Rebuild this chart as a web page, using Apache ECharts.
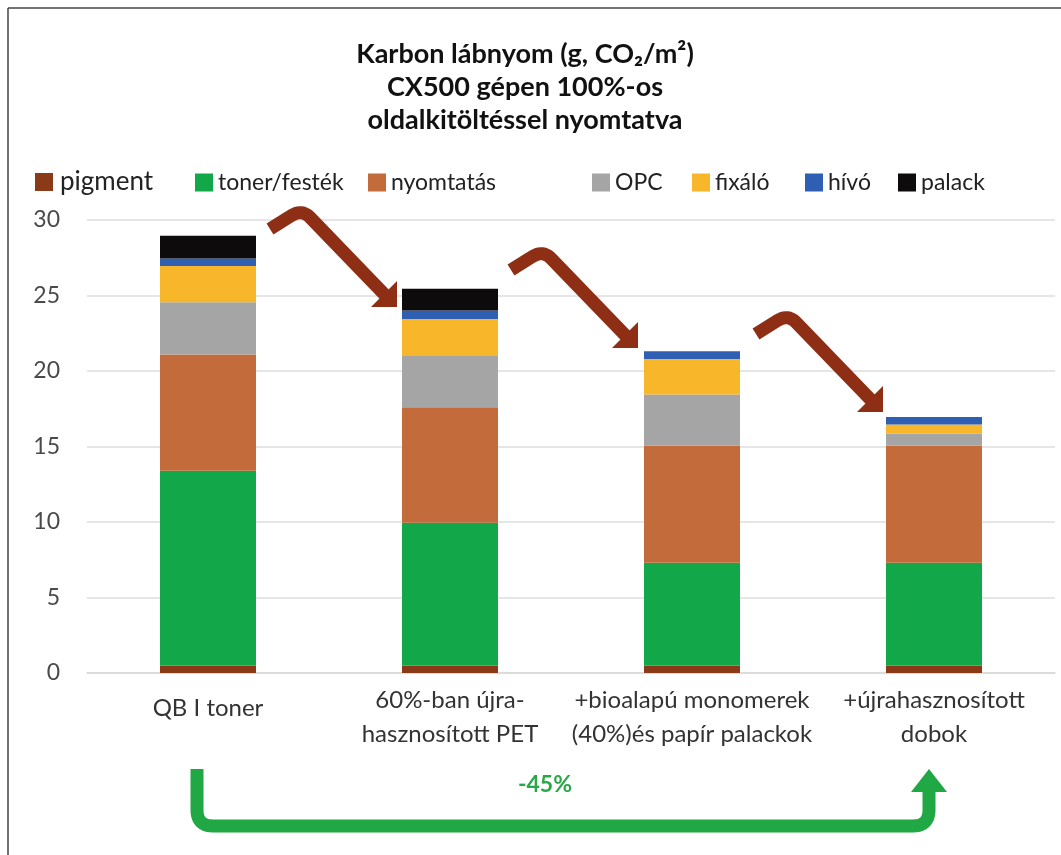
<!DOCTYPE html>
<html>
<head>
<meta charset="utf-8">
<script src="https://cdn.jsdelivr.net/npm/echarts@6/dist/echarts.min.js"></script>
<style>
  html, body { margin: 0; padding: 0; background: #fff; }
  #chart { width: 1061px; height: 855px; }
</style>
</head>
<body>
<div id="chart"></div>
<script>
// categories and values (g CO2/m2)
const categories = [
  "QB I toner",
  "60%-ban újra-\nhasznosított PET",
  "+bioalapú monomerek\n(40%)és papír palackok",
  "+újrahasznosított\ndobok"
];
const pigment = [0.5, 0.5, 0.5, 0.5];
const toner = [12.9, 9.45, 6.8, 6.8];
const nyomtatas = [7.7, 7.65, 7.75, 7.75];
const opc = [3.45, 3.45, 3.4, 0.8];
const fixalo = [2.4, 2.4, 2.35, 0.6];
const hivo = [0.5, 0.55, 0.5, 0.5];
const palack = [1.5, 1.45, 0, 0];
const yTicks = [0, 5, 10, 15, 20, 25, 30];

const FONT = "Lato, 'Open Sans', sans-serif";

const seriesDefs = [
  { name: "pigment", data: pigment, color: "#8a3a17" },
  { name: "toner/festék", data: toner, color: "#12a84a" },
  { name: "nyomtatás", data: nyomtatas, color: "#c46b3b" },
  { name: "OPC", data: opc, color: "#a5a5a5" },
  { name: "fixáló", data: fixalo, color: "#f8b62b" },
  { name: "hívó", data: hivo, color: "#2f5fb3" },
  { name: "palack", data: palack, color: "#0d0b0c" }
];

// legend x positions (one small legend per item, like the original layout)
const legendLeft = [30, 190, 363, 587, 687, 800, 893];

const chart = echarts.init(document.getElementById("chart"));

// points of a polyline with rounded corners (quadratic bends)
function roundedPath(pts, r) {
  const out = [pts[0]];
  for (let i = 1; i < pts.length - 1; i++) {
    const [px, py] = pts[i - 1], [cx, cy] = pts[i], [nx, ny] = pts[i + 1];
    const d1 = Math.hypot(cx - px, cy - py), d2 = Math.hypot(nx - cx, ny - cy);
    const ax = cx - (cx - px) / d1 * r, ay = cy - (cy - py) / d1 * r;
    const bx = cx + (nx - cx) / d2 * r, by = cy + (ny - cy) / d2 * r;
    for (let k = 0; k <= 10; k++) {
      const t = k / 10;
      out.push([
        (1 - t) * (1 - t) * ax + 2 * (1 - t) * t * cx + t * t * bx,
        (1 - t) * (1 - t) * ay + 2 * (1 - t) * t * cy + t * t * by
      ]);
    }
  }
  out.push(pts[pts.length - 1]);
  return out;
}

// curved brown arrow, built around its tip
function brownArrow(tx, ty) {
  const ax = tx - 95, ay = ty - 98;
  return [
    {
      type: "polyline",
      shape: { points: roundedPath([[ax - 32, ay + 20], [ax, ay], [tx - 12, ty - 12]], 12) },
      style: { fill: null, stroke: "#8e2f15", lineWidth: 13 },
      z: 10
    },
    {
      type: "polygon",
      shape: { points: [[tx, ty], [tx, ty - 26], [tx - 26, ty]] },
      style: { fill: "#8e2f15" },
      z: 10
    }
  ];
}

const option = {
  animation: false,
  backgroundColor: "#fff",
  legend: seriesDefs.map((s, i) => ({
    data: [s.name],
    left: legendLeft[i],
    top: i === 0 ? 164 : 166,
    itemWidth: 18,
    itemHeight: 18,
    itemGap: 0,
    icon: "rect",
    textStyle: {
      fontFamily: FONT,
      fontSize: i === 0 ? 26 : 23,
      color: "#222",
      padding: [0, 0, 0, i === 0 ? 2 : 0]
    }
  })),
  grid: { left: 87, right: 6, top: 220, bottom: 182 },
  xAxis: {
    type: "category",
    data: categories.map(c => c.indexOf("\n") < 0
      ? { value: c, textStyle: { lineHeight: 50 } }
      : c),
    axisTick: { show: false },
    axisLine: { lineStyle: { color: "#d9d9d9", width: 1.5 } },
    axisLabel: {
      fontFamily: FONT,
      fontSize: 24,
      color: "#333",
      lineHeight: 34,
      margin: 10,
      interval: 0
    }
  },
  yAxis: {
    type: "value",
    min: yTicks[0],
    max: yTicks[yTicks.length - 1],
    interval: 5,
    axisLine: { show: false },
    axisTick: { show: false },
    splitLine: { lineStyle: { color: "#dedede", width: 1.5 } },
    axisLabel: {
      fontFamily: FONT,
      fontSize: 23,
      color: "#4a4a4a",
      margin: 27
    }
  },
  series: seriesDefs.map(s => ({
    name: s.name,
    type: "bar",
    stack: "total",
    barWidth: 96,
    data: s.data,
    itemStyle: { color: s.color }
  })),
  graphic: [
    // title
    {
      type: "text",
      x: 525,
      y: 38,
      style: {
        text: "Karbon lábnyom (g, CO₂/m²)\nCX500 gépen 100%-os\noldalkitöltéssel nyomtatva",
        textAlign: "center",
        fontFamily: FONT,
        fontSize: 27,
        fontWeight: "bold",
        lineHeight: 33,
        fill: "#111"
      }
    },
    // frame lines on the left and top
    { type: "line", shape: { x1: 8, y1: 8, x2: 1061, y2: 8 }, style: { stroke: "#444", lineWidth: 1.5 } },
    { type: "line", shape: { x1: 8, y1: 8, x2: 8, y2: 855 }, style: { stroke: "#444", lineWidth: 1.5 } },
    ...brownArrow(397, 307),
    ...brownArrow(638, 348),
    ...brownArrow(883, 412),
    // green bracket arrow under the chart
    {
      type: "polyline",
      shape: { points: roundedPath([[197, 769], [197, 826], [929, 826], [929, 790]], 16) },
      style: { fill: null, stroke: "#1fa843", lineWidth: 13 },
      z: 10
    },
    {
      type: "polygon",
      shape: { points: [[929, 769], [947, 792], [911, 792]] },
      style: { fill: "#1fa843" },
      z: 10
    },
    {
      type: "text",
      x: 545,
      y: 785,
      style: {
        text: "-45%",
        textAlign: "center",
        textVerticalAlign: "middle",
        fontFamily: FONT,
        fontSize: 23,
        fontWeight: "bold",
        fill: "#2aa748"
      }
    }
  ]
};

chart.setOption(option);
</script>
</body>
</html>
